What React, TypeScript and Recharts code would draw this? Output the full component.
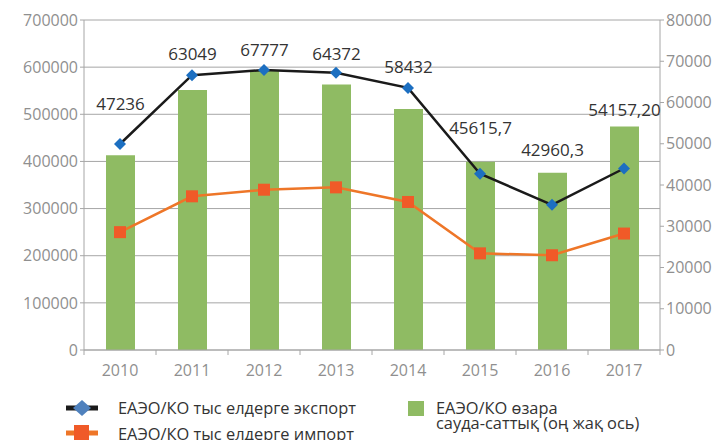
import {
  Bar,
  CartesianGrid,
  ComposedChart,
  LabelList,
  Line,
  XAxis,
  YAxis
} from 'recharts';

const years = ['2010', '2011', '2012', '2013', '2014', '2015', '2016', '2017'];
const exportVals = [437000, 583000, 594000, 588000, 556000, 374000, 308000, 385000];
const importVals = [250000, 326000, 340000, 345000, 314000, 205000, 201000, 247000];
const mutualTrade = [47236, 63049, 67777, 64372, 58432, 45615.7, 42960.3, 54157.2];
const tradeLabels = ['47236', '63049', '67777', '64372', '58432', '45615,7', '42960,3', '54157,20'];
const leftTicks = [0, 100000, 200000, 300000, 400000, 500000, 600000, 700000];
const rightTicks = [0, 10000, 20000, 30000, 40000, 50000, 60000, 70000, 80000];

// how far above the bar top each label sits (labels were hand-placed in the original)
const labelLift = [52, 36, 21, 31, 42, 34, 23, 17];

const data = years.map((year, i) => ({
  year,
  exp: exportVals[i],
  imp: importVals[i],
  trade: mutualTrade[i]
}));

const FONT = '"Open Sans", "Noto Sans", sans-serif';
const AXIS_GRAY = '#a6a6a6';
const TICK_TEXT = '#8f8f8f';
const GREEN = '#8fbb63';
const BLUE = '#1c6fc1';
const ORANGE_LINE = '#ee7628';
const ORANGE_MARK = '#f05a28';

function Diamond(props: any) {
  const { cx, cy } = props;
  if (cx == null || cy == null) return null;
  const r = 6;
  return (
    <path
      d={`M${cx},${cy - r} L${cx + r},${cy} L${cx},${cy + r} L${cx - r},${cy} Z`}
      fill={BLUE}
    />
  );
}

function Square(props: any) {
  const { cx, cy } = props;
  if (cx == null || cy == null) return null;
  return <rect x={cx - 6} y={cy - 6} width={12} height={12} fill={ORANGE_MARK} />;
}

function YearTick(props: any) {
  const { x, y, payload, index } = props;
  const half = 36;
  return (
    <g>
      <line x1={x - half} x2={x - half} y1={y - 8} y2={y - 3} stroke={AXIS_GRAY} />
      {index === years.length - 1 && (
        <line x1={x + half} x2={x + half} y1={y - 8} y2={y - 3} stroke={AXIS_GRAY} />
      )}
      <text x={x} y={y + 18} textAnchor='middle' fill={TICK_TEXT} fontSize={16} fontFamily={FONT}>
        {payload.value}
      </text>
    </g>
  );
}

function TradeLabel(props: any) {
  const { x, y, width, index } = props;
  return (
    <text
      x={x + width / 2}
      y={y - labelLift[index]}
      textAnchor='middle'
      dominantBaseline='central'
      fill='#333333'
      fontSize={17}
      fontFamily={FONT}
    >
      {tradeLabels[index]}
    </text>
  );
}

function LegendBlock() {
  const text = { fontFamily: FONT, fontSize: 16.4, color: '#333333', lineHeight: '15px' };
  return (
    <div style={{ position: 'absolute', left: 0, top: 0, width: 725, height: 440, pointerEvents: 'none' }}>
      <svg width={32} height={18} style={{ position: 'absolute', left: 66, top: 399 }}>
        <line x1={0} x2={32} y1={9} y2={9} stroke='#1a1a1a' strokeWidth={5} />
        <path d='M16,1 L25,9 L16,17 L7,9 Z' fill='#4f81bd' />
      </svg>
      <div style={{ ...text, position: 'absolute', left: 118, top: 400, whiteSpace: 'nowrap' }}>
        ЕАЭО/КО тыс елдерге экспорт
      </div>
      <svg width={32} height={16} style={{ position: 'absolute', left: 66, top: 425 }}>
        <line x1={0} x2={32} y1={8} y2={8} stroke={ORANGE_LINE} strokeWidth={5} />
        <rect x={8} y={0} width={15} height={15} fill={ORANGE_MARK} />
      </svg>
      <div style={{ ...text, position: 'absolute', left: 118, top: 426, whiteSpace: 'nowrap' }}>
        ЕАЭО/КО тыс елдерге импорт
      </div>
      <div style={{ position: 'absolute', left: 408, top: 401, width: 16, height: 15, background: GREEN }} />
      <div style={{ ...text, position: 'absolute', left: 436, top: 400, whiteSpace: 'nowrap' }}>
        ЕАЭО/КО өзара
        <br />
        сауда-саттық (оң жақ ось)
      </div>
    </div>
  );
}

export default function App() {
  return (
    <div style={{ position: 'relative', width: 725, height: 440, background: '#fff', overflow: 'hidden' }}>
      <style>{'body{margin:0}'}</style>
      <ComposedChart
        width={725}
        height={440}
        data={data}
        margin={{ top: 20, right: 0, left: 0, bottom: 60 }}
      >
        <CartesianGrid yAxisId='left' vertical={false} stroke={AXIS_GRAY} />
        <XAxis
          dataKey='year'
          height={30}
          tickLine={false}
          axisLine={{ stroke: AXIS_GRAY }}
          tick={<YearTick />}
          interval={0}
        />
        <YAxis
          yAxisId='left'
          domain={[0, 700000]}
          ticks={leftTicks}
          width={84}
          tickSize={4}
          tickLine={{ stroke: AXIS_GRAY }}
          axisLine={{ stroke: AXIS_GRAY }}
          tick={{ fill: TICK_TEXT, fontSize: 16, fontFamily: FONT }}
          interval={0}
        />
        <YAxis
          yAxisId='right'
          orientation='right'
          domain={[0, 80000]}
          ticks={rightTicks}
          width={65}
          tickSize={4}
          tickLine={{ stroke: AXIS_GRAY }}
          axisLine={{ stroke: AXIS_GRAY }}
          tick={{ fill: TICK_TEXT, fontSize: 16, fontFamily: FONT }}
          interval={0}
        />
        <Bar yAxisId='right' dataKey='trade' fill={GREEN} barSize={29} isAnimationActive={false}>
          <LabelList dataKey='trade' content={<TradeLabel />} />
        </Bar>
        <Line
          yAxisId='left'
          dataKey='exp'
          stroke='#1a1a1a'
          strokeWidth={2.5}
          dot={<Diamond />}
          activeDot={false}
          isAnimationActive={false}
        />
        <Line
          yAxisId='left'
          dataKey='imp'
          stroke={ORANGE_LINE}
          strokeWidth={2.5}
          dot={<Square />}
          activeDot={false}
          isAnimationActive={false}
        />
      </ComposedChart>
      <LegendBlock />
    </div>
  );
}
